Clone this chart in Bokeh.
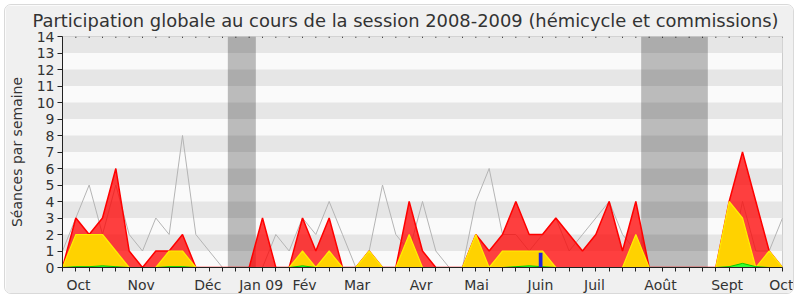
from bokeh.plotting import figure
from bokeh.models import FixedTicker, ColumnDataSource
from bokeh.embed import file_html
from bokeh.resources import INLINE

weeks = list(range(55))
presence = [0, 3, 2, 3, 6, 1, 0, 1, 1, 2, 0, 0, 0, 0, 0, 3, 0, 0, 3, 1,
            3, 0, 0, 1, 0, 0, 4, 1, 0, 0, 0, 2, 1, 2, 4, 2, 2, 3, 2, 1,
            2, 4, 1, 4, 0, 0, 0, 0, 0, 0, 4, 7, 4, 1, 0]
participation = [0, 2, 2, 2, 1, 0, 0, 0, 1, 1, 0, 0, 0, 0, 0, 0, 0, 0, 1, 0,
                 1, 0, 0, 1, 0, 0, 2, 0, 0, 0, 0, 2, 0, 1, 1, 1, 1, 0, 0, 0,
                 0, 0, 0, 2, 0, 0, 0, 0, 0, 0, 4, 3, 0, 1, 0]
mots = [0, 0.05, 0.05, 0.1, 0.05, 0, 0, 0, 0.05, 0.05, 0, 0, 0, 0, 0, 0, 0, 0, 0.1, 0,
        0, 0, 0, 0, 0, 0, 0, 0, 0, 0, 0, 0, 0, 0, 0.05, 0.1, 0.05, 0, 0, 0,
        0, 0, 0, 0, 0, 0, 0, 0, 0, 0, 0.05, 0.25, 0.05, 0, 0]
mediane = [1, 3, 5, 2, 5, 2, 1, 3, 2, 8, 2, 1, 0, 0, 0, 0, 2, 1, 3, 2,
           4, 2, 0, 1, 5, 2, 1, 4, 1, 0, 0, 4, 6, 2, 2, 1, 2, 3, 1, 2,
           3, 4, 2, 1, 0, 0, 0, 0, 0, 0, 0, 4, 1, 1, 3]
questions_weeks = [36]
questions_values = [0.9]
vacances_debut = [12.4, 43.4]
vacances_fin = [14.5, 48.4]
month_labels = ["Oct", "Nov", "Déc", "Jan 09", "Fév", "Mar", "Avr", "Mai",
                "Juin", "Juil", "Août", "Sept", "Oct"]
month_pos = [1.2, 5.9, 10.9, 14.9, 18.15, 22.1, 26.9, 31.05, 35.85, 39.9,
             44.85, 49.85, 53.95]
y_ticks = list(range(15))

FONT = "DejaVu Sans"
TXT = "#333333"

p = figure(width=790, height=290, x_range=(0, 54), y_range=(0, 14),
           output_backend="svg", toolbar_location=None,
           min_border_left=56, min_border_right=13, min_border_top=31, min_border_bottom=28,
           background_fill_color="#FAFAFA", border_fill_color="#F0F0F0",
           title="Participation globale au cours de la session 2008-2009 (hémicycle et commissions)")
p.margin = (4, 4, 4, 4)
p.styles = {"border": "1px solid #D9D9D9", "border-radius": "7px", "overflow": "hidden"}
p.outline_line_color = "#CCCCCC"

p.title.text_font = FONT
p.title.text_font_size = "17.9px"
p.title.text_font_style = "normal"
p.title.text_color = TXT
p.title.align = "left"
p.title.offset = -30
p.title.vertical_align = "top"
p.title.standoff = 8

# grid bands
p.xgrid.visible = False
p.ygrid.ticker = FixedTicker(ticks=y_ticks)
p.ygrid.grid_line_color = None
p.ygrid.band_fill_color = "#E6E6E6"
p.ygrid.band_fill_alpha = 1.0

# vacation bands
p.quad(left=vacances_debut, right=vacances_fin, bottom=0, top=14,
       fill_color="black", fill_alpha=0.25, line_color=None)

src = ColumnDataSource(dict(w=weeks, pres=presence, part=participation, mots=mots, med=mediane))

p.line("w", "med", source=src, line_color="#B4B4B4", line_width=1)
p.varea(x="w", y1=0, y2="pres", source=src, fill_color="#FF0000", fill_alpha=0.75)
p.line("w", "pres", source=src, line_color="#FF0000", line_width=1.5)
p.varea(x="w", y1=0, y2="part", source=src, fill_color="#FFD200", fill_alpha=1)
p.line("w", "part", source=src, line_color="#FFEE00", line_width=1.2)
p.varea(x="w", y1=0, y2="mots", source=src, fill_color="#33FF33", fill_alpha=1)
p.line("w", "mots", source=src, line_color="#00CC00", line_width=1)
p.vbar(x=[w - 0.14 for w in questions_weeks], width=0.28, top=questions_values, bottom=0,
       fill_color="#2222DD", line_color=None)

# top dotted ticks
p.segment(x0=weeks, y0=14, x1=weeks, y1=13.92, line_color="#222222", line_width=1)

# x axis
xa = p.xaxis[0]
xa.ticker = FixedTicker(ticks=month_pos, minor_ticks=weeks)
xa.major_label_overrides = {pos: lab for pos, lab in zip(month_pos, month_labels)}
xa.major_tick_in = 0
xa.major_tick_out = 0
xa.minor_tick_in = 0
xa.minor_tick_out = 4
xa.minor_tick_line_color = "#222222"
xa.axis_line_color = "#222222"
xa.major_label_standoff = 5
xa.major_label_text_font = FONT
xa.major_label_text_font_size = "14px"
xa.major_label_text_color = TXT

ya = p.yaxis[0]
ya.ticker = FixedTicker(ticks=y_ticks)
ya.major_tick_in = 0
ya.major_tick_out = 5
ya.major_tick_line_color = "#222222"
ya.axis_line_color = "#222222"
ya.major_label_standoff = 3
ya.major_label_text_font = FONT
ya.major_label_text_font_size = "14px"
ya.major_label_text_color = TXT
ya.axis_label = "Séances par semaine"
ya.axis_label_text_font = FONT
ya.axis_label_text_font_size = "14px"
ya.axis_label_text_font_style = "normal"
ya.axis_label_text_color = TXT
ya.axis_label_standoff = 9

open("out.html", "w").write(file_html(p, INLINE))
